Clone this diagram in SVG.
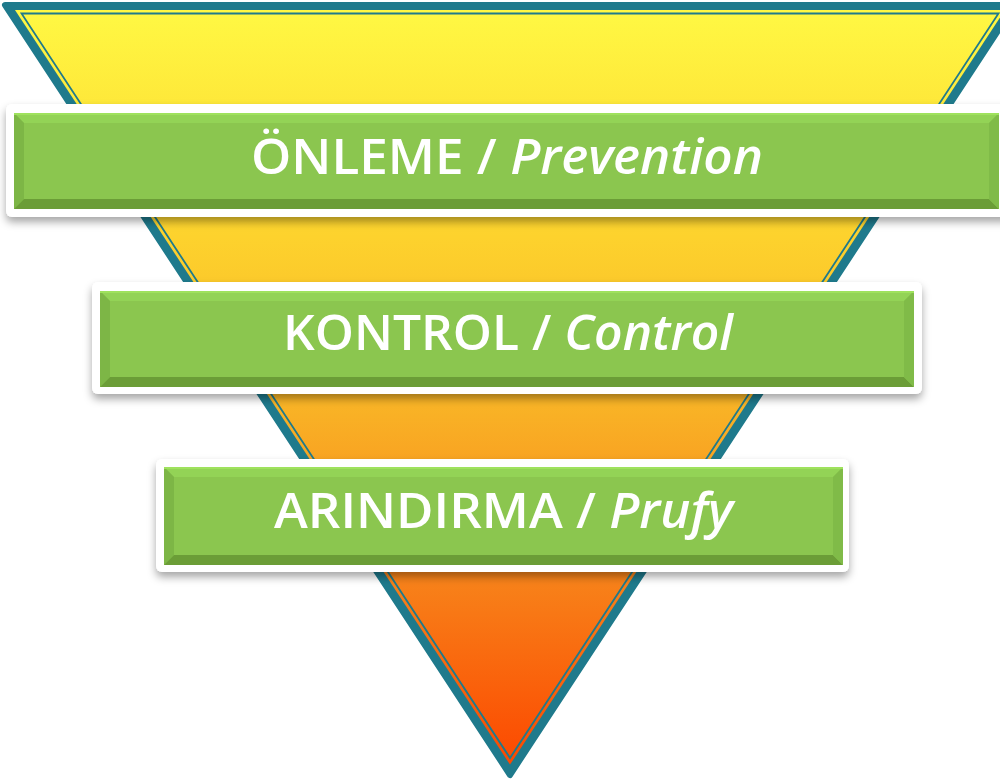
<svg xmlns="http://www.w3.org/2000/svg" width="1000" height="782" viewBox="0 0 1000 782">
<defs>
<linearGradient id="tri" x1="0" y1="10" x2="0" y2="765" gradientUnits="userSpaceOnUse">
<stop offset="0" stop-color="#fff843"/>
<stop offset="0.3" stop-color="#fdd22d"/>
<stop offset="0.52" stop-color="#f9b426"/>
<stop offset="0.75" stop-color="#f7831a"/>
<stop offset="1" stop-color="#fc4800"/>
</linearGradient>
<filter id="sh" x="-5%" y="-20%" width="110%" height="150%">
<feDropShadow dx="0" dy="5" stdDeviation="4" flood-color="#000" flood-opacity="0.35"/>
</filter>
<style>
.frame{fill:#fff;filter:url(#sh)}
.g{fill:#8bc64f}
.bt{fill:#93d356}
.bl{fill:#7db646}
.bb{fill:#6b9d37}
.br{fill:#80bb48}
.hl{fill:none;stroke:#9fe25d;stroke-width:2}
.lbl{font-family:"Open Sans","Liberation Sans",sans-serif;font-weight:600;font-size:49px;fill:#fff}
.it{font-style:italic}
</style>
</defs>
<g id="triangle">
<polygon points="5,5 1015,5 510,775" fill="#1f7a8c" stroke="#1f7a8c" stroke-width="6" stroke-linejoin="round"/>
<polygon points="15,10 1005,10 510,764.6" fill="url(#tri)"/>
<polygon points="21.5,13.5 998.5,13.5 510,758" fill="none" stroke="#1f7a8c" stroke-width="1.8"/>
</g>
<g id="connectors"/>
<g id="box-onleme">
<rect class="frame" x="6" y="104" width="1010" height="113" rx="6"/>
<rect class="g" x="14" y="113" width="985" height="96"/>
<polygon class="bt" points="14,113 999,113 989,123 24,123"/>
<polygon class="bl" points="14,113 24,123 24,199 14,209"/>
<polygon class="bb" points="14,209 24,199 989,199 999,209"/>
<polygon class="br" points="999,113 999,209 989,199 989,123"/>
<line class="hl" x1="14" y1="114" x2="999" y2="114"/>
<text class="lbl" x="251" y="174" textLength="512" lengthAdjust="spacingAndGlyphs">ÖNLEME / <tspan class="it">Prevention</tspan></text>
</g>
<g id="box-kontrol">
<rect class="frame" x="92" y="282" width="830" height="112" rx="6"/>
<rect class="g" x="100" y="291" width="814" height="96"/>
<polygon class="bt" points="100,291 914,291 904,301 110,301"/>
<polygon class="bl" points="100,291 110,301 110,377 100,387"/>
<polygon class="bb" points="100,387 110,377 904,377 914,387"/>
<polygon class="br" points="914,291 914,387 904,377 904,301"/>
<line class="hl" x1="100" y1="292" x2="914" y2="292"/>
<text class="lbl" x="283" y="350" textLength="450" lengthAdjust="spacingAndGlyphs">KONTROL / <tspan class="it">Control</tspan></text>
</g>
<g id="box-arindirma">
<rect class="frame" x="156" y="459" width="693" height="113" rx="6"/>
<rect class="g" x="164" y="467" width="679" height="98"/>
<polygon class="bt" points="164,467 843,467 833,477 174,477"/>
<polygon class="bl" points="164,467 174,477 174,555 164,565"/>
<polygon class="bb" points="164,565 174,555 833,555 843,565"/>
<polygon class="br" points="843,467 843,565 833,555 833,477"/>
<line class="hl" x1="164" y1="468" x2="843" y2="468"/>
<text class="lbl" x="274" y="528" textLength="459" lengthAdjust="spacingAndGlyphs">ARINDIRMA / <tspan class="it">Prufy</tspan></text>
</g>
</svg>
